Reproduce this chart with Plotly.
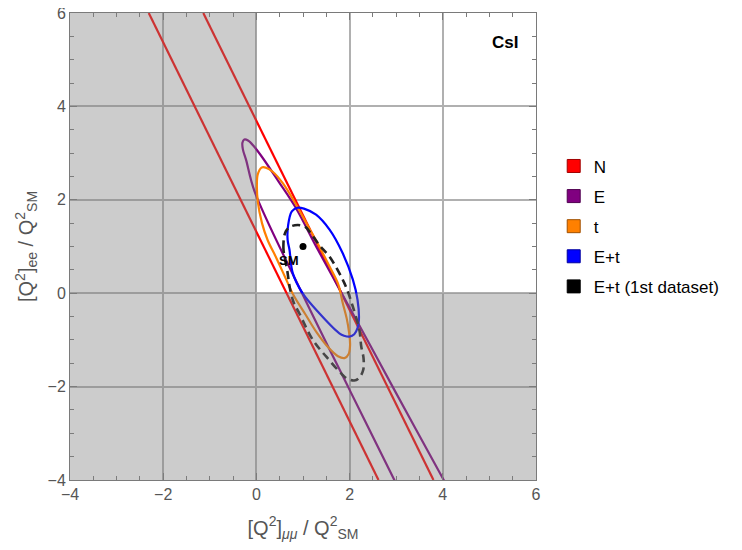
import plotly.graph_objects as go

# --- Data (x = [Q^2]_mumu / Q^2_SM, y = [Q^2]_ee / Q^2_SM) ---
# N: two parallel band edges (each runs across the full frame)
n_x = [-2.31, 2.62, None, -1.14, 3.80]
n_y = [6.0, -4.0, None, 6.0, -4.0]

# E: very elongated contour, open end runs off the bottom of the frame
e_x = [4.30, 4.02, 2.96, 2.16, 1.32, 0.85, 0.47, 0.14, -0.05, -0.18, -0.26, -0.30,
       -0.29, -0.22, -0.04, 0.98, 2.00, 2.96, 3.20]
e_y = [-4.50, -4.00, -2.07, -0.60, 0.93, 1.82, 2.40, 2.89, 3.14, 3.27, 3.29, 3.22,
       3.08, 2.85, 2.18, 0.00, -2.07, -4.00, -4.50]

# t
t_x = [0.65, 0.80, 1.05, 1.30, 1.55, 1.75, 1.89, 1.98, 2.01, 1.99, 1.94, 1.85, 1.76,
       1.57, 1.35, 1.10, 0.85, 0.57, 0.35, 0.20, 0.11, 0.03, 0.01, 0.03, 0.12, 0.24,
       0.43, 0.65]
t_y = [0.27, -0.05, -0.45, -0.85, -1.17, -1.35, -1.39, -1.30, -1.11, -0.85, -0.55,
       -0.20, 0.18, 0.57, 1.00, 1.45, 1.90, 2.35, 2.60, 2.69, 2.69, 2.55, 2.32, 1.96,
       1.50, 1.14, 0.75, 0.27]

# E+t
et_x = [1.85, 2.07, 2.17, 2.20, 2.17, 2.10, 2.00, 1.88, 1.78, 1.35, 0.99, 0.78, 0.71,
        0.67, 0.68, 0.76, 0.88, 1.02, 1.28, 1.57, 1.85]
et_y = [0.86, 0.29, -0.14, -0.57, -0.75, -0.88, -0.93, -0.91, -0.86, -0.43, 0.00, 0.43,
        0.93, 1.14, 1.45, 1.75, 1.83, 1.81, 1.68, 1.36, 0.86]

# E+t (1st dataset)
et1_x = [0.66, 0.58, 0.62, 0.72, 0.89, 1.05, 1.14, 1.35, 1.57, 1.89, 2.07, 2.21, 2.25,
         2.30, 2.29, 2.20, 2.10, 1.95, 1.85, 1.50, 1.21, 0.92, 0.80, 0.72, 0.66]
et1_y = [0.50, 0.96, 1.30, 1.42, 1.46, 1.42, 1.32, 1.03, 0.78, 0.21, -0.29, -0.79, -1.14,
         -1.40, -1.65, -1.82, -1.87, -1.83, -1.75, -1.36, -1.00, -0.43, -0.20, 0.10, 0.50]

sm_x = [1.0]
sm_y = [1.0]

labels = ['N', 'E', 't', 'E+t', 'E+t (1st dataset)']
colors = ['#ff0000', '#800080', '#ff8000', '#0000ff', '#000000']
borders = ['#a00000', '#500050', '#a05000', '#0000a0', '#000000']

fig = go.Figure()

curves = [(n_x, n_y), (e_x, e_y), (t_x, t_y), (et_x, et_y), (et1_x, et1_y)]
for i, (cx, cy) in enumerate(curves):
    line = dict(color=colors[i], width=2.2)
    if i == 4:
        line = dict(color='#222222', width=2.6, dash='8px,5px')
    if i > 0:
        line['shape'] = 'spline'
        line['smoothing'] = 1.0
    fig.add_trace(go.Scatter(x=cx, y=cy, mode='lines', line=line,
                             hoverinfo='skip', showlegend=False))

# SM point
fig.add_trace(go.Scatter(x=sm_x, y=sm_y, mode='markers', marker=dict(color='black', size=7),
                         showlegend=False, hoverinfo='skip'))

# legend swatches
for i, lab in enumerate(labels):
    fig.add_trace(go.Scatter(x=[None], y=[None], mode='markers', name=lab,
                             legendgroup=lab,
                             marker=dict(symbol='square', size=13, color=colors[i],
                                         line=dict(color=borders[i], width=1))))

# gray shading on top (everything except the first quadrant)
shade = 'rgba(128,128,128,0.4)'
fig.add_shape(type='rect', xref='x', yref='y', x0=-4, x1=0, y0=-4, y1=6,
              fillcolor=shade, line_width=0, layer='above')
fig.add_shape(type='rect', xref='x', yref='y', x0=0, x1=6, y0=-4, y1=0,
              fillcolor=shade, line_width=0, layer='above')

fig.add_annotation(x=0.70, y=0.70, text='<b>SM</b>', showarrow=False,
                   font=dict(size=13, color='black'))
fig.add_annotation(x=5.34, y=5.36, text='<b>CsI</b>', showarrow=False,
                   font=dict(size=17, color='black'))

axis_common = dict(
    range=[-4, 6], dtick=2, tick0=-4, automargin=False, ticklabeloverflow='allow',
    showgrid=True, gridcolor='#b0b0b0', gridwidth=1.5,
    zeroline=False, showline=True, linecolor='#7a7a7a', linewidth=1,
    mirror='allticks', ticks='inside', ticklen=7, tickcolor='#7a7a7a',
    minor=dict(dtick=0.5, ticks='inside', ticklen=4, tickcolor='#7a7a7a', showgrid=False),
    tickfont=dict(size=16, color='#555555'),
)

fig.update_xaxes(**axis_common,
                 title=dict(text='[Q<sup>2</sup>]<sub><i>μμ</i></sub> / Q<sup>2</sup><sub>SM</sub>',
                            font=dict(size=20, color='#555555'), standoff=18))
fig.update_yaxes(**axis_common,
                 title=dict(text='[Q<sup>2</sup>]<sub>ee</sub> / Q<sup>2</sup><sub>SM</sub>',
                            font=dict(size=20, color='#555555'), standoff=8))

# page body adds an 8px offset, margins compensate so the frame sits at 70..536 x 13..480
fig.update_layout(
    width=742, height=550,
    margin=dict(l=62, r=214, t=5, b=78),
    plot_bgcolor='white', paper_bgcolor='white',
    font=dict(family='Liberation Sans, Arial, sans-serif'),
    legend=dict(x=1.038, xanchor='left', y=0.71, yanchor='top',
                font=dict(size=17, color='black'), tracegroupgap=5,
                bgcolor='rgba(0,0,0,0)'),
)

fig.write_html("out.html")
